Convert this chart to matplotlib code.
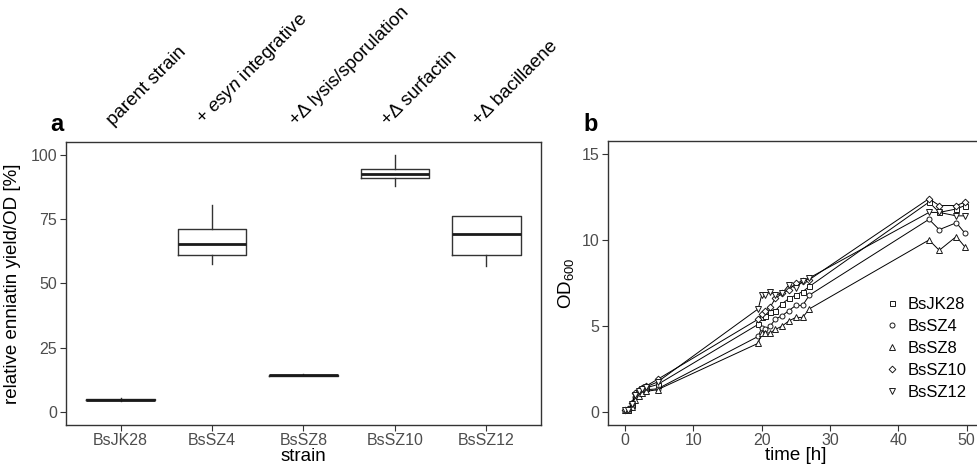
import matplotlib
matplotlib.use('Agg')
import matplotlib.pyplot as plt
import matplotlib.transforms as mtransforms

plt.rcParams['font.family'] = ['Liberation Sans', 'DejaVu Sans']
plt.rcParams['mathtext.fontset'] = 'custom'
plt.rcParams['mathtext.rm'] = 'Liberation Sans'
plt.rcParams['mathtext.it'] = 'Liberation Sans:italic'

# panel a: enniatin yield boxplots
strains = ['BsJK28', 'BsSZ4', 'BsSZ8', 'BsSZ10', 'BsSZ12']
modifications = ['parent strain', r'+ $\mathit{esyn}$ integrative', '+\u0394 lysis/sporulation',
                 '+\u0394 surfactin', '+\u0394 bacillaene']
whislo = [4.5, 57.4, 14.0, 87.9, 56.8]
q1 = [4.6, 61.0, 14.1, 90.8, 61.1]
med = [4.8, 65.1, 14.3, 92.4, 69.3]
q3 = [5.0, 71.1, 14.5, 94.4, 76.1]
whishi = [5.6, 80.6, 14.8, 100.0, 76.1]

# panel b: growth curves
time = [0, 0.5, 1, 1.5, 2, 2.5, 3, 4.75,
        19.5, 20, 20.5, 21.25, 22, 23, 24, 25, 26, 27,
        44.5, 46, 48.5, 49.75]
od_jk28 = [0.1, 0.15, 0.4, 0.95, 1.15, 1.3, 1.4, 1.6,
           5.1, 5.5, 5.6, 5.8, 5.9, 6.3, 6.6, 6.8, 7.0, 7.3,
           12.2, 11.6, 11.8, 12.0]
od_sz4 = [0.1, 0.12, 0.35, 0.85, 1.05, 1.2, 1.3, 1.35,
          4.4, 4.9, 4.8, 5.0, 5.4, 5.6, 5.9, 6.2, 6.2, 6.8,
          11.2, 10.6, 11.0, 10.4]
od_sz8 = [0.1, 0.12, 0.3, 0.7, 0.95, 1.1, 1.2, 1.3,
          4.0, 4.6, 4.6, 4.6, 4.8, 5.0, 5.3, 5.5, 5.5, 6.0,
          10.0, 9.4, 10.2, 9.6]
od_sz10 = [0.1, 0.18, 0.5, 1.1, 1.3, 1.4, 1.5, 1.9,
           5.4, 5.7, 5.9, 6.1, 6.6, 6.9, 7.1, 7.5, 7.6, 7.7,
           12.4, 12.0, 12.0, 12.2]
od_sz12 = [0.1, 0.15, 0.45, 1.0, 1.2, 1.35, 1.45, 1.75,
           6.0, 6.8, 6.8, 7.0, 6.8, 6.9, 7.4, 7.2, 7.6, 7.8,
           11.6, 11.6, 11.4, 11.4]
growth = [od_jk28, od_sz4, od_sz8, od_sz10, od_sz12]
markers = ['s', 'o', '^', 'D', 'v']
msizes = [3.6, 3.6, 4.2, 3.4, 4.2]

frame = '#333333'
ticktxt = '#4D4D4D'

fig = plt.figure(figsize=(9.77, 4.65), dpi=100)
ax1 = fig.add_axes([0.0672, 0.086, 0.4868, 0.6093])
ax2 = fig.add_axes([0.6223, 0.086, 0.3845, 0.6108])

# ---- a ----
stats = []
for i in range(len(strains)):
    stats.append({'label': strains[i], 'whislo': whislo[i], 'q1': q1[i], 'med': med[i],
                  'q3': q3[i], 'whishi': whishi[i], 'fliers': []})
ax1.bxp(stats, positions=range(len(strains)), widths=0.75, showcaps=False, showfliers=False,
        boxprops=dict(color=frame, linewidth=1.0),
        whiskerprops=dict(color=frame, linewidth=1.0),
        medianprops=dict(color='#1a1a1a', linewidth=2.0))
ax1.set_xlim(-0.6, 4.6)
ax1.set_ylim(-5, 105)
ax1.set_yticks([0, 25, 50, 75, 100])
ax1.set_xticks(range(len(strains)))
ax1.set_xticklabels(strains)
ax1.set_ylabel('relative enniatin yield/OD [%]', fontsize=13.5, labelpad=7)

trans = mtransforms.blended_transform_factory(ax1.transData, ax1.transAxes)
for i, m in enumerate(modifications):
    ax1.text(i - 0.05, 1.045, m, transform=trans, rotation=45, rotation_mode='anchor',
             ha='left', va='bottom', fontsize=13.5)

# ---- b ----
for i in range(len(strains)):
    ax2.plot(time, growth[i], color='black', linewidth=0.7, marker=markers[i],
             markersize=msizes[i], markerfacecolor='white', markeredgecolor='#1a1a1a',
             markeredgewidth=0.7, label=strains[i])
ax2.set_xlim(-2.5, 52.5)
ax2.set_ylim(-0.75, 15.75)
ax2.set_xticks([0, 10, 20, 30, 40, 50])
ax2.set_yticks([0, 5, 10, 15])
ax2.set_ylabel(r'$\mathregular{OD_{600}}$', fontsize=13.5, labelpad=4)

leg = ax2.legend(loc='center left', bbox_to_anchor=(0.694, 0.27), frameon=False, fontsize=12,
                 handlelength=1.0, handletextpad=0.45, labelspacing=0.42)
for h in leg.legend_handles:
    h.set_linestyle('none')

for ax in (ax1, ax2):
    for s in ax.spines.values():
        s.set_color(frame)
        s.set_linewidth(1.0)
    ax.tick_params(colors=frame, labelcolor=ticktxt, labelsize=11.5, length=4, width=0.8, pad=2)

ax1.set_xlabel('strain', fontsize=13.5, labelpad=0)
ax2.set_xlabel('time [h]', fontsize=13.5, labelpad=-1)

fig.text(0.051, 0.718, 'a', fontsize=17, fontweight='bold')
fig.text(0.597, 0.718, 'b', fontsize=17, fontweight='bold')

fig.savefig('out.png', dpi=100)
